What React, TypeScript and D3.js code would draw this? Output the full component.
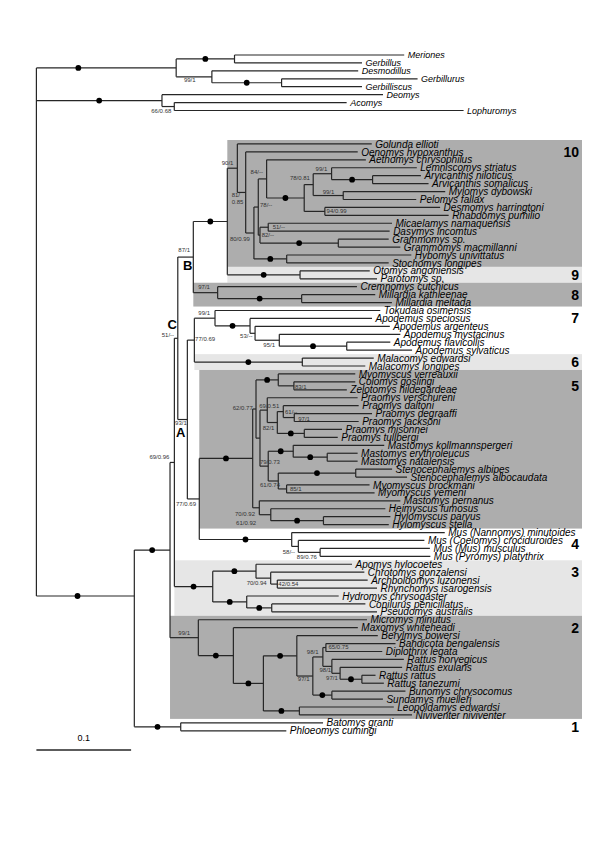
import React from 'react';
import * as d3 from 'd3';

type Edge = [string, string, number];

// ---- tree data: [node, parent, branch length (subst./site)] in top-to-bottom order ----
const OUTGROUP: Edge[] = [
  ['G', 'root', 0.1476], ['nMG', 'G', 0.0616], ['Meriones', 'nMG', 0.1792], ['Gerbillus', 'nMG', 0.1346],
  ['nDGG', 'G', 0.0377], ['Desmodillus', 'nDGG', 0.1545], ['nGG', 'nDGG', 0.0736],
  ['Gerbillurus', 'nGG', 0.1436], ['Gerbilliscus', 'nGG', 0.0849],
  ['D', 'root', 0.1326], ['Deomys', 'D', 0.2334], ['nAL', 'D', 0.013],
  ['Acomys', 'nAL', 0.182], ['Lophuromys', 'nAL', 0.3055],
];
const BACKBONE: Edge[] = [
  ['M', 'root', 0.1034], ['N170', 'M', 0.0377], ['N174', 'N170', 0.0046], ['C', 'N174', 0.0036],
  ['B', 'C', 0.0164], ['N109', 'B', 0.0359],
];
const CLADE10: Edge[] = [
  ['n10', 'N109', 0.0106], ['Golunda ellioti', 'n10', 0.1419], ['n10a', 'n10', 0.0088],
  ['Oenomys hypoxanthus', 'n10a', 0.1183], ['n10b', 'n10a', 0.0087], ['n10c', 'n10b', 0.0046],
  ['nAeth', 'n10c', 0.0088], ['Aethomys chrysophilus', 'nAeth', 0.1048], ['nArvi', 'nAeth', 0.0397],
  ['n313', 'nArvi', 0.0095], ['nLA', 'n313', 0.0194], ['Lemniscomys striatus', 'nLA', 0.09],
  ['nArv', 'nLA', 0.0433], ['Arvicanthis niloticus', 'nArv', 0.051], ['Arvicanthis somalicus', 'nArv', 0.0591],
  ['nMP', 'n313', 0.0317], ['Mylomys dybowski', 'nMP', 0.1077], ['Pelomys fallax', 'nMP', 0.0771],
  ['nDR', 'nArvi', 0.0218], ['Desmomys harringtoni', 'nDR', 0.1217], ['Rhabdomys pumilio', 'nDR', 0.1307],
  ['nMG2', 'n10c', 0.0018], ['nMD', 'nMG2', 0.0087], ['Micaelamys namaquensis', 'nMD', 0.1307],
  ['Dasymys incomtus', 'nMD', 0.1282], ['nGram', 'nMG2', 0.0827], ['Grammomys sp.', 'nGram', 0.0532],
  ['Grammomys macmillanni', 'nGram', 0.0655], ['nHS', 'n10b', 0.0346],
  ['Hybomys univittatus', 'nHS', 0.1316], ['Stochomys longipes', 'nHS', 0.1077],
];
const CLADE9: Edge[] = [
  ['n9', 'N109', 0.0768], ['Otomys angoniensis', 'n9', 0.0736], ['Parotomys sp.', 'n9', 0.0813],
];
const CLADE8: Edge[] = [
  ['n8', 'B', 0.0257], ['Cremnomys cutchicus', 'n8', 0.1471], ['nMill', 'n8', 0.0887],
  ['Millardia kathleenae', 'nMill', 0.0777], ['Millardia meltada', 'nMill', 0.0953],
];
const CLADE7: Edge[] = [
  ['A', 'C', 0.0101], ['N194', 'A', 0.0074], ['n7', 'N194', 0.0218],
  ['Tokudaia osimensis', 'n7', 0.1745], ['nApo', 'n7', 0.037], ['Apodemus speciosus', 'nApo', 0.1288],
  ['nApo2', 'nApo', 0.0053], ['Apodemus argenteus', 'nApo2', 0.1423], ['nApo3', 'nApo2', 0.0256],
  ['Apodemus mystacinus', 'nApo3', 0.1278], ['nFS', 'nApo3', 0.0712],
  ['Apodemus flavicollis', 'nFS', 0.046], ['Apodemus sylvaticus', 'nFS', 0.069],
];
const CLADE6: Edge[] = [
  ['n6', 'N194', 0.114], ['Malacomys edwardsi', 'n6', 0.0754], ['Malacomys longipes', 'n6', 0.0665],
];
const CLADE5: Edge[] = [
  ['N199', 'A', 0.0126], ['n5', 'N199', 0.0564], ['n5a', 'n5', 0.0035], ['nMCZ', 'n5a', 0.0235],
  ['Myomyscus verreauxii', 'nMCZ', 0.0813], ['nCZ', 'nMCZ', 0.0165], ['Colomys goslingi', 'nCZ', 0.0648],
  ['Zelotomys hildegardeae', 'nCZ', 0.0559], ['nPM', 'n5a', 0.0042], ['nP1', 'nPM', 0.0077],
  ['Praomys verschureni', 'nP1', 0.0954], ['nP2', 'nP1', 0.0106], ['nP3', 'nP2', 0.0063],
  ['Praomys daltoni', 'nP3', 0.0796], ['nDJ', 'nP3', 0.0116], ['Praomys degraaffi', 'nDJ', 0.0821],
  ['Praomys jacksoni', 'nDJ', 0.068], ['nMT', 'nP2', 0.0285], ['Praomys misonnei', 'nMT', 0.0398],
  ['Praomys tullbergi', 'nMT', 0.0353], ['nMSM', 'nPM', 0.0087], ['nMast', 'nMSM', 0.0264],
  ['Mastomys kollmannspergeri', 'nMast', 0.0961], ['nEN', 'nMast', 0.0359],
  ['Mastomys erythroleucus', 'nEN', 0.0321], ['Mastomys natalensis', 'nEN', 0.0321],
  ['nSM', 'nMSM', 0.0106], ['nSteno', 'nSM', 0.0818], ['Stenocephalemys albipes', 'nSteno', 0.0384],
  ['Stenocephalemys albocaudata', 'nSteno', 0.0542], ['nMB', 'nSM', 0.0088],
  ['Myomyscus brockmani', 'nMB', 0.0876], ['Myomyscus yemeni', 'nMB', 0.0929],
  ['n5b', 'n5', 0.007], ['Mastomys pernanus', 'n5b', 0.1489], ['nHH', 'n5b', 0.0121],
  ['Heimyscus fumosus', 'nHH', 0.121], ['nHyl', 'nHH', 0.0556],
  ['Hylomyscus parvus', 'nHyl', 0.0707], ['Hylomyscus stella', 'nHyl', 0.069],
];
const CLADE4: Edge[] = [
  ['n4', 'N199', 0.0976], ['Mus (Nannomys) minutoides', 'n4', 0.1616], ['nMus2', 'n4', 0.007],
  ['Mus (Coelomys) crociduroides', 'nMus2', 0.1331], ['nMP4', 'nMus2', 0.023],
  ['Mus (Mus) musculus', 'nMP4', 0.1159], ['Mus (Pyromys) platythrix', 'nMP4', 0.1164],
];
const CLADE3: Edge[] = [
  ['n3', 'N174', 0.0405], ['nAp', 'n3', 0.0457], ['Apomys hylocoetes', 'nAp', 0.1014],
  ['nCh', 'nAp', 0.0155], ['Chrotomys gonzalensi', 'nCh', 0.0989], ['nAR', 'nCh', 0.007],
  ['Archboldomys luzonensi', 'nAR', 0.0954], ['Rhynchomys isarogensis', 'nAR', 0.1053],
  ['nHyd', 'n3', 0.0359], ['Hydromys chrysogaster', 'nHyd', 0.0971], ['nCP', 'nHyd', 0.0264],
  ['Conilurus penicillatus', 'nCP', 0.0989], ['Pseudomys australis', 'nCP', 0.1112],
];
const CLADE2: Edge[] = [
  ['n2', 'N170', 0.0299], ['Micromys minutus', 'n2', 0.1781], ['nMx', 'n2', 0.037],
  ['Maxomys whiteheadi', 'nMx', 0.1314], ['nR1', 'nMx', 0.0317], ['nR2', 'nR1', 0.0353],
  ['Berylmys bowersi', 'nR2', 0.0855], ['nR3', 'nR2', 0.0169], ['nR4', 'nR3', 0.0106],
  ['nBD', 'nR4', 0.0032], ['Bandicota bengalensis', 'nBD', 0.0735], ['Diplothrix legata', 'nBD', 0.0595],
  ['nR5', 'nR4', 0.0095], ['Rattus norvegicus', 'nR5', 0.076], ['nR6', 'nR5', 0.0087],
  ['Rattus exulans', 'nR6', 0.0655], ['nRT', 'nR6', 0.023], ['Rattus rattus', 'nRT', 0.0144],
  ['Rattus tanezumi', 'nRT', 0.0232], ['nBS', 'nR3', 0.0201], ['Bunomys chrysocomus', 'nBS', 0.0777],
  ['Sundamys muelleri', 'nBS', 0.0539], ['nLN', 'nR1', 0.038], ['Leopoldamys edwardsi', 'nLN', 0.0997],
  ['Niviventer niviventer', 'nLN', 0.1189],
];
const CLADE1: Edge[] = [
  ['C1', 'M', 0.049], ['Batomys granti', 'C1', 0.1503], ['Phloeomys cumingi', 'C1', 0.1115],
];

// nodes whose stem carries a black dot (strong support)
const DOTS = ['G', 'D', 'nMG', 'nGG', 'M', 'C1', 'N170', 'N109', 'nArvi', 'nArv', 'nGram', 'nHS', 'n9',
  'nMill', 'nApo', 'nFS', 'n6', 'n5', 'nMCZ', 'nMT', 'nMast', 'nEN', 'nSteno', 'nHyl', 'n4', 'n3', 'nAp',
  'nHyd', 'nCP', 'nMx', 'nR1', 'nR2', 'nLN', 'nBS', 'nRT'];

// bootstrap / posterior support labels
const SUPPORTS: [string, string][] = [
  ['nDGG', '99/1'], ['nAL', '66/0.68'], ['n10', '90/1'], ['n10a', '81/\n0.85'], ['nAeth', '84/--'],
  ['n10c', '78/--'], ['nLA', '99/1'], ['n313', '78/0.81'], ['nMP', '99/1'], ['nDR', '94/0.99'],
  ['nMD', '51/--'], ['nMG2', '82/--'], ['n10b', '80/0.99'], ['B', '87/1'], ['n8', '97/1'],
  ['n7', '99/1'], ['N194', '77/0.69'], ['nApo2', '53/--'], ['nApo3', '95/1'], ['C', '51/--'],
  ['A', '93/1'], ['nCZ', '83/1'], ['n5a', '62/0.77'], ['nP1', '69/0.51'], ['nP3', '61/--'],
  ['nDJ', '97/1'], ['nP2', '82/1'], ['nMSM', '79/0.73'], ['nSM', '61/0.74'], ['nMB', '85/1'],
  ['N199', '77/0.69'], ['N174', '69/0.96'], ['n5b', '70/0.92'], ['nHH', '61/0.92'], ['nMus2', '58/--'],
  ['nMP4', '89/0.76'], ['nCh', '70/0.94'], ['nAR', '42/0.54'], ['n2', '99/1'], ['nBD', '65/0.75'],
  ['nR4', '98/1'], ['nR5', '98/1'], ['nR3', '97/1'], ['nR6', '97/1'],
];

// clade boxes: [number, first leaf, last leaf, node where box starts, shade]
const CLADES: [string, string, string, string, string][] = [
  ['10', 'Golunda ellioti', 'Stochomys longipes', 'N109', 'dark'],
  ['9', 'Otomys angoniensis', 'Parotomys sp.', 'N109', 'light'],
  ['8', 'Cremnomys cutchicus', 'Millardia meltada', 'B', 'dark'],
  ['7', 'Tokudaia osimensis', 'Apodemus sylvaticus', 'N194', 'none'],
  ['6', 'Malacomys edwardsi', 'Malacomys longipes', 'N194', 'light'],
  ['5', 'Myomyscus verreauxii', 'Hylomyscus stella', 'N199', 'dark'],
  ['4', 'Mus (Nannomys) minutoides', 'Mus (Pyromys) platythrix', 'N199', 'none'],
  ['3', 'Apomys hylocoetes', 'Pseudomys australis', 'N174', 'light'],
  ['2', 'Micromys minutus', 'Niviventer niviventer', 'N170', 'dark'],
  ['1', 'Batomys granti', 'Phloeomys cumingi', 'M', 'none'],
];
// clade number anchored between two leaves
const CLADE_NUM_AT: Record<string, [string, string]> = {
  '10': ['Oenomys hypoxanthus', 'Oenomys hypoxanthus'], '9': ['Otomys angoniensis', 'Parotomys sp.'],
  '8': ['Millardia kathleenae', 'Millardia kathleenae'], '7': ['Apodemus speciosus', 'Apodemus speciosus'],
  '6': ['Malacomys edwardsi', 'Malacomys longipes'], '5': ['Colomys goslingi', 'Zelotomys hildegardeae'],
  '4': ['Mus (Coelomys) crociduroides', 'Mus (Mus) musculus'], '3': ['Chrotomys gonzalensi', 'Chrotomys gonzalensi'],
  '2': ['Maxomys whiteheadi', 'Maxomys whiteheadi'], '1': ['Batomys granti', 'Phloeomys cumingi'],
};
const NODE_LETTERS: [string, string][] = [['B', 'B'], ['C', 'C'], ['A', 'A']];
const SCALE_VALUE = 0.1;

// ---- layout constants ----
const ROOT_X = 36.4;
const PX_PER_01 = 94.7;
const Y0 = 55;
const STEP = 7.93;
const OUTGROUP_LEAVES = 8;
const GAP = 3.22;
const BOX_RIGHT = 582;
const SCALE_Y = 750;
// stems drawn level with a given leaf instead of the children's midpoint
const STEM_ALIGN: Record<string, string> = { M: 'Hydromys chrysogaster' };
// where the dot sits along a stem (fraction from parent), default mid
const DOT_FRAC: Record<string, number> = { G: 0.3, M: 0.42 };
const SUPPORT_OFF: Record<string, [number, number]> = {
  nDGG: [-28, 3], nAL: [-23, 4], n10: [-15.6, -5], n10a: [-14, 2.5], nAeth: [-16, -7.3],
  n10c: [1.7, -2], nLA: [-16, -4.8], n313: [-23.3, -6.3], nMP: [-20.6, -3.8], nDR: [1.7, -0.7],
  nMD: [4.4, 0], nMG2: [1.7, 0], n10b: [-24, 6], B: [-15, -7], n8: [-19.4, -6], n7: [-16.7, -5],
  N194: [0.7, -1], nApo2: [-15, 2.7], nApo3: [-16, 4.7], C: [-16, -3.3], A: [-12.3, 3.7],
  nCZ: [1, 0.8], n5a: [-23.3, -1.4], nP1: [-8, -4.5], nP3: [1.7, 0], nDJ: [4, 1.7], nP2: [-14.6, 5.7],
  nMSM: [-8.3, -4.5], nSM: [-18.3, 3.9], nMB: [3.3, 0.3], N199: [-23.3, 5.3], N174: [-25, -5.2],
  n5b: [-24.3, 6], nHH: [-34.7, 8.5], nMus2: [-15.6, 5.2], nMP4: [-23.3, 4.2], nCh: [-24, 4.5],
  nAR: [1, 0], n2: [-20, -5.2], nBD: [2.6, -1.1], nR4: [-16, -5.5], nR5: [-12.4, 3.5],
  nR3: [-15, 3.1], nR6: [-14, 4.8],
};
const LETTER_OFF: Record<string, [number, number]> = { B: [-1, 8], C: [-1, -14], A: [-2, 12.5] };

const FONT = "'Liberation Sans', Arial, Helvetica, sans-serif";
const LINE = '#262626';

export default function App() {
  const edges = [...OUTGROUP, ...BACKBONE, ...CLADE10, ...CLADE9, ...CLADE8, ...CLADE7, ...CLADE6,
    ...CLADE5, ...CLADE4, ...CLADE3, ...CLADE2, ...CLADE1];
  const table = [{ id: 'root', parent: null as string | null, len: 0 },
    ...edges.map(([id, parent, len]) => ({ id, parent, len }))];
  const root: any = d3.stratify<any>().id((d: any) => d.id).parentId((d: any) => d.parent)(table);

  const x = d3.scaleLinear().domain([0, SCALE_VALUE]).range([ROOT_X, ROOT_X + PX_PER_01]);
  const y = d3.scaleLinear().domain([0, 1]).range([Y0, Y0 + STEP]);

  const byId: Record<string, any> = {};
  root.each((n: any) => { byId[n.id] = n; });
  root.eachBefore((n: any) => { n.dist = n.parent ? n.parent.dist + n.data.len : 0; n.px = x(n.dist); });
  root.leaves().forEach((l: any, i: number) => {
    l.slot = i + (i >= OUTGROUP_LEAVES ? GAP : 0);
    l.py = y(l.slot);
  });
  root.eachAfter((n: any) => {
    if (!n.children) return;
    n.py = STEM_ALIGN[n.id] ? byId[STEM_ALIGN[n.id]].py
      : (n.children[0].py + n.children[n.children.length - 1].py) / 2;
  });
  const nodes: any[] = root.descendants();

  const shade: Record<string, string> = { dark: '#adadad', light: '#e6e6e6' };

  return (
    <svg width={600} height={849} style={{ position: 'absolute', left: 0, top: 0, background: '#fff' }}
      fontFamily={FONT}>
      <rect x={0} y={0} width={600} height={849} fill="#fff" />
      {CLADES.map(([num, a, b, n, s]) => {
        const top = byId[a].py - STEP / 2;
        const bot = byId[b].py + STEP / 2;
        return s === 'none' ? null : (
          <rect key={'box' + num} x={byId[n].px} y={top} width={BOX_RIGHT - byId[n].px} height={bot - top}
            fill={shade[s]} />
        );
      })}
      {CLADES.map(([num]) => {
        const [a, b] = CLADE_NUM_AT[num];
        return (
          <text key={'num' + num} x={579} y={(byId[a].py + byId[b].py) / 2} dy="0.36em" textAnchor="end"
            fontSize={14} fontWeight="bold" fill="#000">{num}</text>
        );
      })}
      <g stroke={LINE} strokeWidth={1.2} fill="none">
        {nodes.filter((n) => n.parent).map((n) => (
          <line key={'h' + n.id} x1={n.parent.px} x2={n.px} y1={n.py} y2={n.py} />
        ))}
        {nodes.filter((n) => n.children).map((n) => (
          <line key={'v' + n.id} x1={n.px} x2={n.px} y1={n.children[0].py}
            y2={n.children[n.children.length - 1].py} />
        ))}
      </g>
      {DOTS.map((id) => {
        const n = byId[id];
        const f = DOT_FRAC[id] ?? 0.5;
        return <circle key={'d' + id} cx={n.parent.px + f * (n.px - n.parent.px)} cy={n.py} r={2.9} fill="#000" />;
      })}
      {root.leaves().map((l: any, i: number) => (
        <text key={'l' + l.id} x={l.px + 3.5} y={l.py} dy="0.36em" fontStyle="italic"
          fontSize={i < OUTGROUP_LEAVES ? 9 : 10} fill="#000">{l.id}</text>
      ))}
      {SUPPORTS.map(([id, t]) => {
        const n = byId[id];
        const [dx, dy] = SUPPORT_OFF[id] || [0, 0];
        const lines = t.split('\n');
        return (
          <text key={'s' + id} x={n.px + dx} y={n.py + dy} fontSize={6} fill="#333">
            {lines.map((s, k) => <tspan key={k} x={n.px + dx} dy={k === 0 ? '0.36em' : '1.2em'}>{s}</tspan>)}
          </text>
        );
      })}
      {NODE_LETTERS.map(([id, t]) => {
        const n = byId[id];
        const [dx, dy] = LETTER_OFF[id];
        return (
          <text key={'L' + id} x={n.px + dx} y={n.py + dy} dy="0.36em" textAnchor="end" fontSize={13}
            fontWeight="bold" fill="#000">{t}</text>
        );
      })}
      <line x1={x(0)} x2={x(SCALE_VALUE)} y1={SCALE_Y} y2={SCALE_Y} stroke={LINE} strokeWidth={1.3} />
      <text x={(x(0) + x(SCALE_VALUE)) / 2} y={SCALE_Y - 12} dy="0.36em" textAnchor="middle" fontSize={9}
        fill="#000">{SCALE_VALUE}</text>
    </svg>
  );
}
